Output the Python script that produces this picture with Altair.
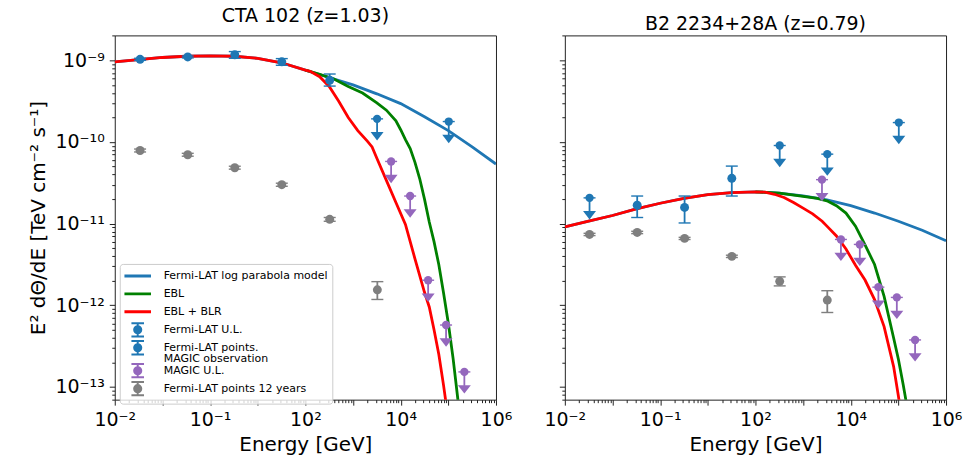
import altair as alt
import pandas as pd

FONT = "DejaVu Sans"
BLUE, GREEN, RED, PURPLE, GRAY = "#1f77b4", "#008000", "#ff0000", "#9467bd", "#7f7f7f"

SERIES = ["Fermi-LAT log parabola model", "EBL", "EBL + BLR", "Fermi-LAT U.L.",
          "Fermi-LAT points.\nMAGIC observation", "MAGIC U.L.", "Fermi-LAT points 12 years"]
SERIES_COLORS = [BLUE, GREEN, RED, BLUE, BLUE, PURPLE, GRAY]
PANELS = ["CTA 102 (z=1.03)", "B2 2234+28A (z=0.79)"]

X_DOMAIN = [1e-2, 1e6]
Y_DOMAIN = [7.0e-14, 2.02e-9]
X_LABEL_EXP = [-2, 0, 2, 4, 6]
X_LABEL_TEXT = ["10⁻²", "10⁻¹", "10²", "10⁴", "10⁶"]
Y_LABEL_EXP = [-9, -10, -11, -12, -13]
Y_LABEL_TEXT = ["10⁻⁹", "10⁻¹⁰", "10⁻¹¹", "10⁻¹²", "10⁻¹³"]

# ---------------- CTA 102 (left) ----------------
L_PT_E = [0.034, 0.34, 3.3, 32, 324]
L_PT_F = [1.03e-9, 1.10e-9, 1.17e-9, 9.6e-10, 5.7e-10]
L_PT_LO = [1.00e-9, 1.07e-9, 1.06e-9, 8.7e-10, 4.84e-10]
L_PT_HI = [1.06e-9, 1.13e-9, 1.28e-9, 1.05e-9, 6.8e-10]

L_UL_E = [3200, 1.02e5]
L_UL_F = [1.92e-10, 1.78e-10]

L_MAGIC_E = [6300, 1.58e4, 3.77e4, 8.97e4, 2.17e5]
L_MAGIC_F = [5.78e-11, 2.18e-11, 2.03e-12, 5.74e-13, 1.53e-13]

L_12Y_E = [0.034, 0.34, 3.3, 32, 324, 3240]
L_12Y_F = [7.87e-11, 6.98e-11, 4.84e-11, 3.0e-11, 1.13e-11, 1.55e-12]
L_12Y_LO = [7.55e-11, 6.7e-11, 4.65e-11, 2.87e-11, 1.07e-11, 1.18e-12]
L_12Y_HI = [8.2e-11, 7.27e-11, 5.05e-11, 3.13e-11, 1.19e-11, 1.95e-12]

L_MODEL_LOGE = [-2, -1.5, -1, -0.5, 0, 0.5, 1, 1.5, 2, 2.5, 3, 3.5, 4, 4.5, 5, 5.5, 6]
L_MODEL_LOGF = [-9.02, -8.99, -8.965, -8.95, -8.945, -8.95, -8.975, -9.03, -9.12, -9.21,
                -9.30, -9.41, -9.53, -9.69, -9.86, -10.06, -10.27]
L_EBL_LOGE = [2.0, 2.3, 2.6, 2.9, 3.2, 3.5, 3.7, 3.9, 4.0, 4.1, 4.2, 4.3, 4.4, 4.5, 4.6,
              4.7, 4.8, 4.9, 5.0, 5.1, 5.2, 5.3]
L_EBL_LOGF = [-9.12, -9.17, -9.23, -9.32, -9.40, -9.52, -9.61, -9.74, -9.85, -9.97, -10.08,
              -10.25, -10.45, -10.70, -10.98, -11.22, -11.50, -11.85, -12.22, -12.65, -13.15, -13.7]
L_BLR_LOGE = [-2, -1.5, -1, -0.5, 0, 0.5, 1, 1.5, 2, 2.1, 2.3, 2.5, 2.7, 2.9, 3.1, 3.3, 3.4,
              3.5, 3.7, 3.9, 4.1, 4.3, 4.5, 4.6, 4.7, 4.8, 4.9, 5.0, 5.1]
L_BLR_LOGF = [-9.02, -8.99, -8.965, -8.95, -8.945, -8.95, -8.975, -9.03, -9.12, -9.135, -9.20,
              -9.32, -9.50, -9.70, -9.86, -9.99, -10.06, -10.20, -10.47, -10.74, -11.01, -11.43,
              -11.84, -12.02, -12.30, -12.60, -12.98, -13.4, -13.9]

# ---------------- B2 2234+28A (right) ----------------
R_PT_E = [0.33, 3.26, 31.9]
R_PT_F = [1.68e-11, 1.58e-11, 3.59e-11]
R_PT_LO = [1.19e-11, 1.02e-11, 2.18e-11]
R_PT_HI = [2.18e-11, 2.18e-11, 5.07e-11]

R_UL_E = [0.033, 323, 3220, 1.02e5]
R_UL_F = [2.07e-11, 9.06e-11, 7.1e-11, 1.73e-10]

R_MAGIC_E = [2490, 6220, 1.55e4, 3.8e4, 9.27e4, 2.24e5]
R_MAGIC_F = [3.46e-11, 6.41e-12, 5.57e-12, 1.67e-12, 1.25e-12, 3.77e-13]

R_12Y_E = [0.033, 0.33, 3.26, 32, 323, 3220]
R_12Y_F = [7.38e-12, 7.81e-12, 6.6e-12, 3.98e-12, 1.97e-12, 1.16e-12]
R_12Y_LO = [7.15e-12, 7.55e-12, 6.4e-12, 3.85e-12, 1.73e-12, 8.17e-13]
R_12Y_HI = [7.62e-12, 8.07e-12, 6.8e-12, 4.11e-12, 2.23e-12, 1.51e-12]

R_MODEL_LOGE = [-2, -1.5, -1, -0.5, 0, 0.5, 1, 1.5, 2, 2.5, 3, 3.5, 4, 4.5, 5, 5.5, 6]
R_MODEL_LOGF = [-11.04, -10.97, -10.90, -10.82, -10.75, -10.69, -10.645, -10.62, -10.61,
                -10.625, -10.66, -10.71, -10.78, -10.87, -10.97, -11.08, -11.21]
R_EBL_LOGE = [2.0, 2.5, 3.0, 3.3, 3.5, 3.7, 3.9, 4.1, 4.3, 4.5, 4.7, 4.9, 5.0, 5.1, 5.2, 5.3]
R_EBL_LOGF = [-10.61, -10.625, -10.665, -10.69, -10.72, -10.78, -10.87, -11.03, -11.26, -11.50,
              -11.89, -12.40, -12.66, -12.97, -13.3, -13.7]
R_BLR_LOGE = [-2, -1.5, -1, -0.5, 0, 0.5, 1, 1.5, 2, 2.2, 2.4, 2.6, 2.8, 3.0, 3.2, 3.4, 3.5,
              3.7, 3.9, 4.1, 4.3, 4.5, 4.7, 4.9, 5.0, 5.1]
R_BLR_LOGF = [-11.04, -10.97, -10.90, -10.82, -10.75, -10.69, -10.645, -10.62, -10.61, -10.615,
              -10.64, -10.68, -10.74, -10.81, -10.88, -10.97, -11.03, -11.15, -11.31, -11.51,
              -11.69, -11.93, -12.26, -12.75, -13.11, -13.5]


def curve(series, loge, logf):
    return pd.DataFrame({"series": series, "E": [10.0 ** v for v in loge],
                         "F": [10.0 ** v for v in logf], "i": list(range(len(loge)))})


def pts(series, e, f, lo=None, hi=None):
    return pd.DataFrame({"series": series, "E": e, "F": f,
                         "lo": lo if lo is not None else f, "hi": hi if hi is not None else f})


PANEL_DATA = [
    dict(model=curve(SERIES[0], L_MODEL_LOGE, L_MODEL_LOGF),
         ebl=curve(SERIES[1], L_EBL_LOGE, L_EBL_LOGF),
         blr=curve(SERIES[2], L_BLR_LOGE, L_BLR_LOGF),
         err=pd.concat([pts(SERIES[6], L_12Y_E, L_12Y_F, L_12Y_LO, L_12Y_HI),
                        pts(SERIES[4], L_PT_E, L_PT_F, L_PT_LO, L_PT_HI)]),
         ul=pd.concat([pts(SERIES[3], L_UL_E, L_UL_F), pts(SERIES[5], L_MAGIC_E, L_MAGIC_F)])),
    dict(model=curve(SERIES[0], R_MODEL_LOGE, R_MODEL_LOGF),
         ebl=curve(SERIES[1], R_EBL_LOGE, R_EBL_LOGF),
         blr=curve(SERIES[2], R_BLR_LOGE, R_BLR_LOGF),
         err=pd.concat([pts(SERIES[6], R_12Y_E, R_12Y_F, R_12Y_LO, R_12Y_HI),
                        pts(SERIES[4], R_PT_E, R_PT_F, R_PT_LO, R_PT_HI)]),
         ul=pd.concat([pts(SERIES[3], R_UL_E, R_UL_F), pts(SERIES[5], R_MAGIC_E, R_MAGIC_F)])),
]

# ---------------- axes ----------------
X_TICKS = [s * 10.0 ** d for d in range(-2, 6) for s in range(1, 10)] + [1e6]
Y_TICKS = [s * 10.0 ** d for d in range(-14, -8) for s in range(1, 10)
           if Y_DOMAIN[0] <= s * 10.0 ** d <= Y_DOMAIN[1]]
LOG = "(log(datum.value)/LN10)"
MAJOR = f"abs({LOG} - round({LOG})) < 0.001"


def label_expr(exps, texts):
    expr = "''"
    for e, t in reversed(list(zip(exps, texts))):
        expr = f"abs({LOG} - ({e})) < 0.001 ? '{t}' : {expr}"
    return expr


TICK_SIZE = {"condition": {"test": MAJOR, "value": 5.5}, "value": 3}
X_AXIS = alt.Axis(values=X_TICKS, labelExpr=label_expr(X_LABEL_EXP, X_LABEL_TEXT),
                  labelOverlap=False, labelFlush=False, tickSize=TICK_SIZE,
                  title="Energy [GeV]", labelPadding=5, titlePadding=5)
Y_AXIS_L = alt.Axis(values=Y_TICKS, labelExpr=label_expr(Y_LABEL_EXP, Y_LABEL_TEXT),
                    labelOverlap=False, tickSize=TICK_SIZE,
                    title="E² dΘ/dE [TeV cm⁻² s⁻¹]", labelPadding=5, titlePadding=6)
Y_AXIS_R = alt.Axis(values=Y_TICKS, labels=False, tickSize=TICK_SIZE, title=None)

# ---------------- legend (symbols drawn by stroke only) ----------------
LINE_SYMBOL = "M-1.9,-0.07L1.9,-0.07M-1.9,0.07L1.9,0.07M0,-0.95M0,0.95"


def ring(r):
    return f"M{-r},0A{r},{r},0,1,0,{r},0A{r},{r},0,1,0,{-r},0Z"


EB_SYMBOL = (ring(0.51) + ring(0.29) + ring(0.09) +
             "M0,-0.95L0,0.95M-0.9,-0.95L0.9,-0.95M-0.9,0.95L0.9,0.95")
SYMBOLS = [LINE_SYMBOL] * 3 + [EB_SYMBOL] * 4

LEGEND = alt.Legend(
    orient="none", legendX=5, legendY=229, title=None,
    labelFont=FONT, labelFontSize=11, labelColor="black", labelLimit=400,
    labelExpr="split(datum.label, '\\n')", gridAlign="none",
    symbolSize=196, symbolOffset=6, labelOffset=18, rowPadding=-4, symbolStrokeWidth=2,
    symbolOpacity=1,
    padding=4, strokeColor="#cccccc", fillColor="rgba(255,255,255,0.8)", cornerRadius=3,
)
COLOR = alt.Color("series:N", scale=alt.Scale(domain=SERIES, range=SERIES_COLORS), legend=LEGEND)
SHAPE = alt.Shape("series:N", scale=alt.Scale(domain=SERIES, range=SYMBOLS), legend=LEGEND)


def panel(idx):
    d = PANEL_DATA[idx]
    xs = alt.Scale(type="log", domain=X_DOMAIN, nice=False)
    ys = alt.Scale(type="log", domain=Y_DOMAIN, nice=False)
    X = alt.X("E:Q", scale=xs, axis=X_AXIS)
    Y = alt.Y("F:Q", scale=ys, axis=Y_AXIS_L if idx == 0 else Y_AXIS_R)

    def line(df):
        return alt.Chart(df).mark_line(strokeWidth=2.8, clip=True).encode(
            x=X, y=Y, color=COLOR, order="i:Q")

    err = alt.Chart(d["err"])
    ul = alt.Chart(d["ul"])
    layers = [
        # legend carrier: draws nothing itself
        ul.transform_filter("false").mark_point(filled=False, opacity=1, strokeWidth=2).encode(
            x=X, y=Y, color=COLOR, shape=SHAPE),
        line(d["model"]), line(d["ebl"]), line(d["blr"]),
        err.mark_rule(strokeWidth=1.8).encode(x=X, y=alt.Y("lo:Q", scale=ys), y2="hi:Q", color=COLOR),
        err.transform_fold(["lo", "hi"], as_=["k", "v"]).mark_tick(
            orient="horizontal", size=12, thickness=1.4, opacity=1).encode(
            x=X, y=alt.Y("v:Q", scale=ys), color=COLOR),
        err.mark_point(filled=True, size=80, opacity=1).encode(x=X, y=Y, color=COLOR),
        ul.mark_rule(strokeWidth=1.8, y2Offset=14).encode(x=X, y=Y, y2="F:Q", color=COLOR),
        ul.mark_point(shape="M-1,-0.65L1,-0.65L0,0.65Z", filled=True, size=169, yOffset=17.5,
                      opacity=1).encode(x=X, y=Y, color=COLOR),
        ul.mark_tick(orient="horizontal", size=12, thickness=1.4, opacity=1).encode(
            x=X, y=Y, color=COLOR),
        ul.mark_point(filled=True, size=70, opacity=1).encode(x=X, y=Y, color=COLOR),
    ]
    return alt.layer(*layers).properties(
        width=382, height=365,
        title=alt.TitleParams(PANELS[idx], fontSize=19, font=FONT, fontWeight="normal",
                              color="black", offset=0.5))


chart = alt.hconcat(panel(0), panel(1), spacing=30).resolve_scale(
    x="independent", y="independent", color="shared", shape="shared"
).properties(
    padding={"left": 28, "top": 6, "right": 5, "bottom": 5}
).configure(
    view=alt.ViewConfig(stroke="#222222", strokeWidth=1),
    axis=alt.AxisConfig(
        grid=False, domain=False, tickColor="#222222", tickWidth=1,
        labelFont=FONT, labelFontSize=19, labelColor="black",
        titleFont=FONT, titleFontSize=20, titleFontWeight="normal", titleColor="black"),
    title=alt.TitleConfig(font=FONT),
    style={"guide-label": {"lineHeight": 11}},
)

chart.save("out.html", embed_options={"renderer": "svg", "actions": False})
